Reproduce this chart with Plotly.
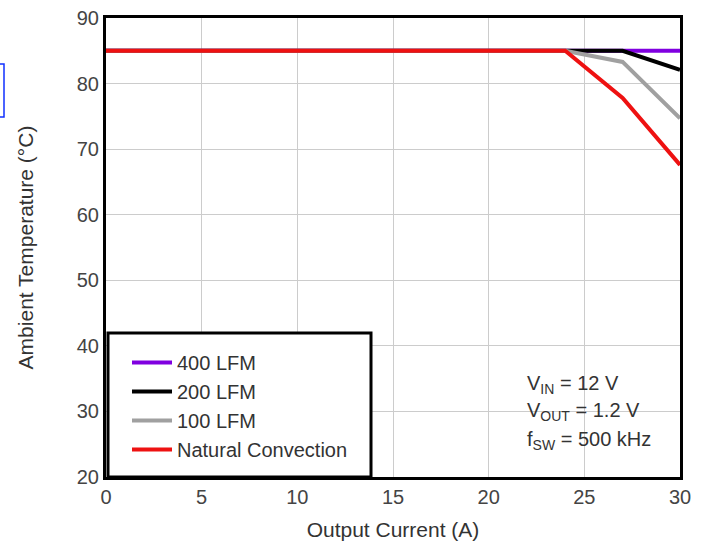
import plotly.graph_objects as go

current = [0, 24, 27, 30]
t_400 = [85, 85, 85, 85]
t_200 = [85, 85, 85, 82.1]
t_100 = [85, 85, 83.3, 74.7]
t_nat = [85, 85, 77.8, 67.6]

names = ["400 LFM", "200 LFM", "100 LFM", "Natural Convection"]
colors = ["#8000e0", "#000000", "#a0a0a0", "#ee1111"]
series = [t_400, t_200, t_100, t_nat]

x_ticks = [0, 5, 10, 15, 20, 25, 30]
y_ticks = [20, 30, 40, 50, 60, 70, 80, 90]

FONT = "Liberation Sans, Arial, sans-serif"

fig = go.Figure()
for n, c, s in zip(names, colors, series):
    fig.add_trace(go.Scatter(x=current, y=s, mode="lines", name=n,
                             line=dict(color=c, width=4)))

W, H = 712, 548
L, R, T, B = 106, 32, 18, 71
pw, ph = W - L - R, H - T - B

def px(xs):
    return (xs - L) / pw

def py(ys):
    return 1 - (ys - T) / ph

fig.update_layout(
    width=W, height=H,
    margin=dict(l=L, r=R, t=T, b=B, autoexpand=False),
    paper_bgcolor="white", plot_bgcolor="white",
    font=dict(family=FONT, size=20, color="#333"),
    showlegend=True,
    legend=dict(x=px(127), y=py(343), xanchor="left", yanchor="top",
                bgcolor="rgba(0,0,0,0)", borderwidth=0,
                font=dict(family=FONT, size=20, color="#333"),
                itemwidth=40),
    xaxis=dict(range=[0, 30], tickvals=x_ticks, showgrid=True, gridcolor="#cccccc",
               gridwidth=1, zeroline=False, showline=True, mirror=True,
               linecolor="black", linewidth=3, ticks="", automargin=False,
               ticklabeloverflow="allow",
               tickfont=dict(size=20, color="#444"),
               title=dict(text="Output Current (A)", font=dict(size=21, color="#333"), standoff=16)),
    yaxis=dict(range=[20, 90], tickvals=y_ticks, showgrid=True, gridcolor="#cccccc",
               gridwidth=1, zeroline=False, showline=True, mirror=True,
               linecolor="black", linewidth=3, ticks="", automargin=False,
               ticklabeloverflow="allow",
               tickfont=dict(size=20, color="#444"),
               title=dict(text="Ambient Temperature (°C)", font=dict(size=21, color="#333"), standoff=38)),
    shapes=[
        dict(type="rect", xref="paper", yref="paper", x0=px(108), x1=px(371),
             y0=py(477), y1=py(333), fillcolor="white",
             line=dict(color="black", width=3), layer="above"),
        dict(type="rect", xref="paper", yref="paper", x0=px(-10), x1=px(4),
             y0=py(117), y1=py(64), fillcolor="rgba(0,0,0,0)",
             line=dict(color="#1030ff", width=1.5), layer="above"),
    ],
)

ann = [("V<sub>IN</sub> = 12 V", 384), ("V<sub>OUT</sub> = 1.2 V", 411),
       ("f<sub>SW</sub> = 500 kHz", 440)]
for txt, yp in ann:
    fig.add_annotation(text=txt, xref="paper", yref="paper", x=px(525), y=py(yp),
                       xanchor="left", yanchor="middle", showarrow=False,
                       align="left", font=dict(family=FONT, size=20, color="#333"))

fig.write_html("out.html", config={"displayModeBar": False},
               post_script="document.body.style.margin='0';document.body.style.padding='0';")
